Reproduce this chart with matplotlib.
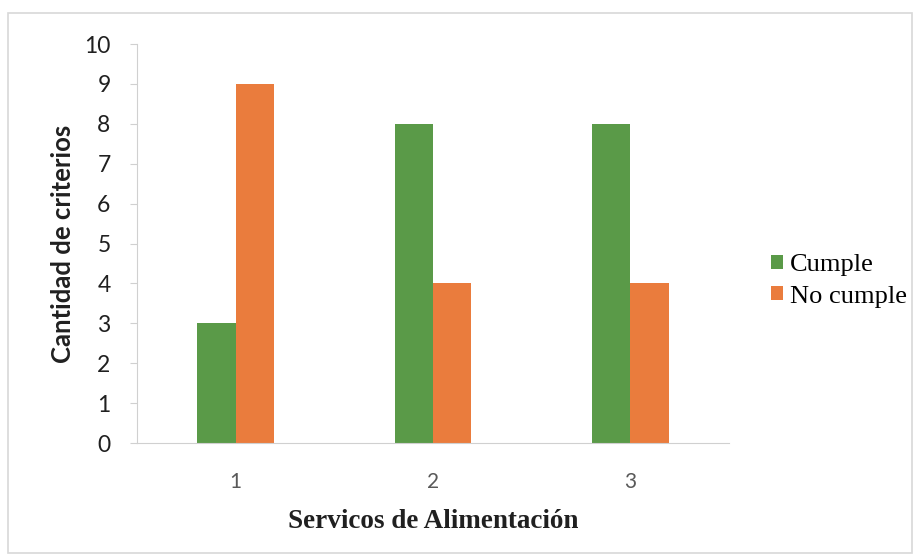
import matplotlib
matplotlib.use('Agg')
import matplotlib.pyplot as plt
import numpy as np
from matplotlib.patches import Rectangle

# categorias y valores
servicios = ['1', '2', '3']
cumple = [3, 8, 8]
no_cumple = [9, 4, 4]

verde = '#5A9A48'
naranja = '#EA7C3D'
gris = '#D0D0D0'

fig = plt.figure(figsize=(9.2, 5.55), dpi=100)
ax = fig.add_axes([0.1489, 0.2018, 0.6435, 0.7189])

x = np.arange(len(servicios))
w = 0.195
ax.bar(x - w / 2, cumple, w, color=verde, label='Cumple')
ax.bar(x + w / 2, no_cumple, w, color=naranja, label='No cumple')

ax.set_xlim(-0.5, 2.5)
ax.set_ylim(0, 10)
ax.set_yticks(range(0, 11))
ax.set_xticks(x)
ax.set_xticklabels(servicios, fontfamily='Lato', fontsize=15, color='#595959')
for t in ax.get_yticklabels():
    t.set_fontfamily('Lato')
    t.set_fontsize(16.5)
    t.set_color('#202020')

for s in ['top', 'right']:
    ax.spines[s].set_visible(False)
ax.spines['left'].set_color(gris)
ax.spines['bottom'].set_color(gris)
ax.tick_params(axis='y', length=5, color=gris, pad=14)
ax.tick_params(axis='x', length=0, pad=21)

ax.set_ylabel('Cantidad de criterios', fontfamily='Lato', fontweight='bold',
              fontsize=18.5, color='#202020', va='center')
ax.yaxis.set_label_coords(-74 / 592, 0.5)
ax.set_xlabel('Servicos de Alimentación', fontfamily='Liberation Serif', fontweight='bold',
              fontsize=19.5, color='#202020', va='center')
ax.xaxis.set_label_coords(0.5, -79 / 399)

fig.legend(*ax.get_legend_handles_labels(), loc='center left',
           bbox_to_anchor=(771 / 920, 1 - 281 / 555), frameon=False,
           prop={'family': 'Liberation Serif', 'size': 19},
           handlelength=0.45, handleheight=0.45, handletextpad=0.27,
           labelspacing=0.35, borderpad=0, borderaxespad=0)

# marco exterior
fig.patches.append(Rectangle((8 / 920, 2 / 555), 904 / 920, 540 / 555,
                             transform=fig.transFigure, fill=False,
                             edgecolor='#D8D8D8', linewidth=1.2))

fig.savefig('out.png', dpi=100)
